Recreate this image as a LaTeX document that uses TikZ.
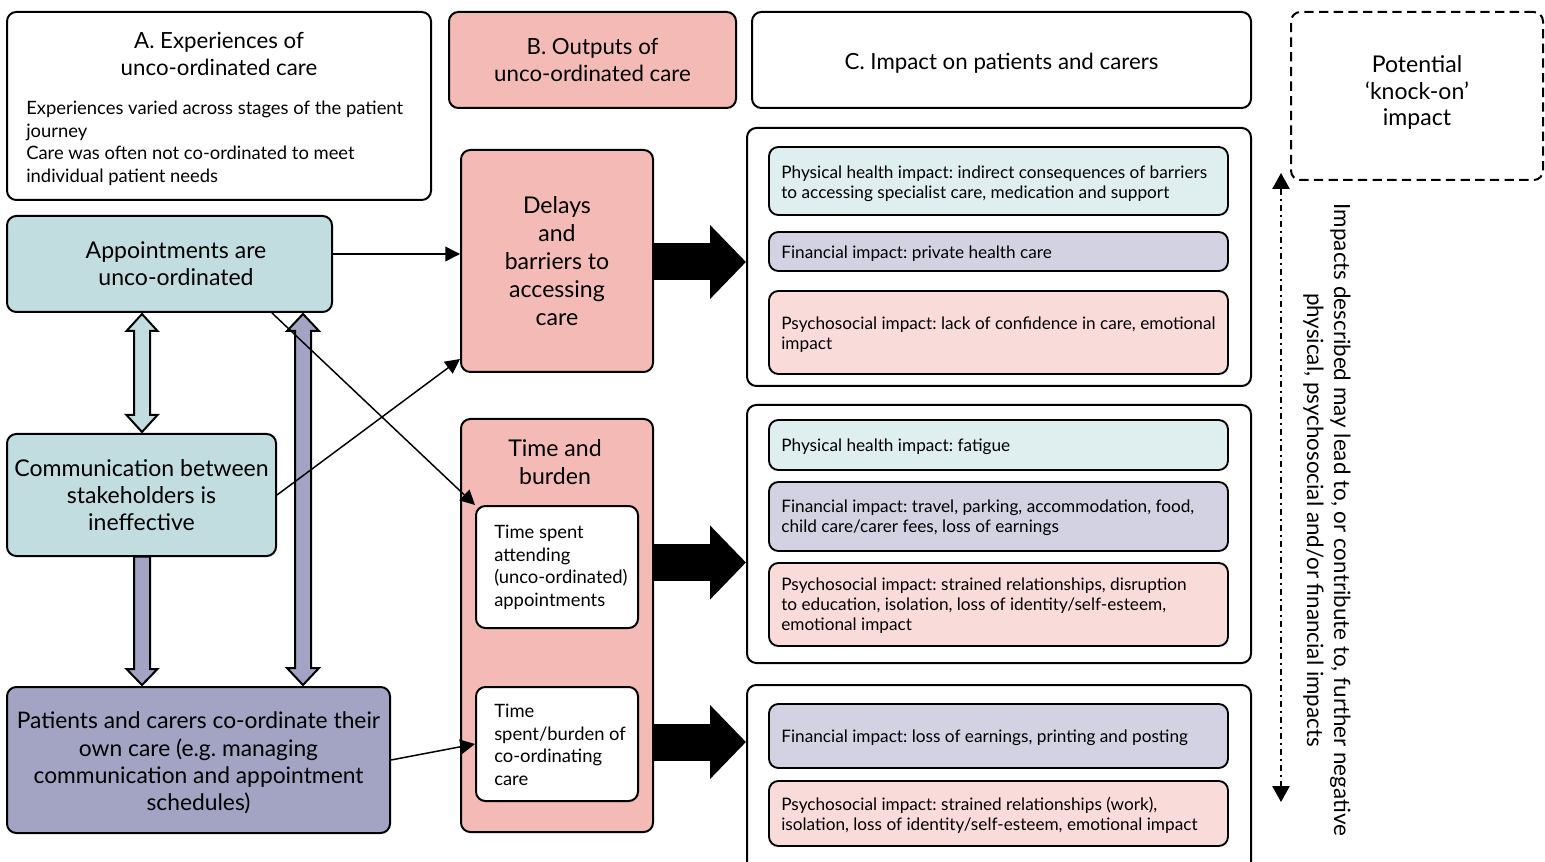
\documentclass[tikz,border=0pt]{standalone}
\usepackage{fontspec}
\setmainfont{Lato}
\usetikzlibrary{arrows.meta,calc}

% one drawing unit = 0.75pt
\newcommand\pu{*0.75pt}
\newcommand\fbig{\fontsize{17.3}{20.4}\selectfont}
\newcommand\fhead{\fontsize{16.7}{20.2}\selectfont}
\newcommand\fbody{\fontsize{13.8}{16.9}\selectfont}
\newcommand\fsub{\fontsize{12.9}{15}\selectfont}

\definecolor{tealbox}{HTML}{C1DDDF}
\definecolor{pinkbox}{HTML}{F4BBB6}
\definecolor{purplebox}{HTML}{A3A3C3}
\definecolor{lteal}{HTML}{DFEEEE}
\definecolor{lpurple}{HTML}{D3D2E3}
\definecolor{lpink}{HTML}{F9DCDA}

\frenchspacing
\begin{document}
\begin{tikzpicture}[x=0.75pt,y=-0.75pt,
  box/.style={draw, line width=1.5pt, rounded corners=7pt, inner sep=0pt, align=center},
  bigbox/.style={box, font=\fbig},
  headbox/.style={box, font=\fhead},
  label/.style={align=center, inner sep=0pt},
  subbox/.style={draw, line width=1.4pt, rounded corners=7pt, inner sep=0pt, minimum width=459\pu},
  subtext/.style={anchor=west, align=left, inner sep=0pt, font=\fsub},
  conn/.style={line width=1.1pt, -{Triangle[length=11pt,width=11pt]}},
  fat/.style={line width=27.75pt, -{Triangle[length=27pt,width=54pt]}},
  hollow/.style={draw, line width=1.5pt, line join=miter},
]
\clip (0,0) rectangle (1545,862);

% column headers
\node[box, minimum width=424\pu, minimum height=188\pu] (A) at (219,106) {};
\node[label, font=\fhead] (Atitle) at (219,54) {A. Experiences of\\unco-ordinated care};
\node[anchor=west, align=left, inner sep=0pt, font=\fbody] (Abody) at (26,143.5)
  {Experiences varied across stages of the patient\\journey\\Care was often not co-ordinated to meet\\individual patient needs};
\node[headbox, fill=pinkbox, minimum width=287\pu, minimum height=96\pu] (B) at (592.5,60)
  {B. Outputs of\\unco-ordinated care};
\node[box, minimum width=499\pu, minimum height=96\pu] (C) at (1001.5,60) {};
\node[label, font=\fhead] (Ctext) at (1001.5,63) {C. Impact on patients and carers};
\node[box, dash pattern=on 7pt off 4pt, minimum width=252\pu, minimum height=168\pu] (pot) at (1417,96) {};
\node[label, font=\fontsize{17.3}{20.2}\selectfont] (pottext) at (1417,92.5)
  {Potential\\‘knock-on’\\impact};

% experiences
\node[box, fill=tealbox, minimum width=325\pu, minimum height=96\pu] (app) at (169.5,264) {};
\node[label, font=\fbig] (apptext) at (176,264) {Appointments are\\unco-ordinated};
\node[bigbox, fill=tealbox, minimum width=269\pu, minimum height=122\pu] (comm) at (141.5,495)
  {Communication between\\stakeholders is\\ineffective};
\node[box, fill=purplebox, minimum width=383\pu, minimum height=146\pu] (pat) at (198.5,760) {};
\node[label, font=\fontsize{17.1}{20.4}\selectfont] (pattext) at (198.5,763)
  {Patients and carers co-ordinate their\\own care (e.g. managing\\communication and appointment\\schedules)};

% outputs
\node[bigbox, fill=pinkbox, minimum width=192\pu, minimum height=222\pu, font=\fontsize{17.3}{21}\selectfont] (delays) at (557,261)
  {Delays\\and\\barriers to\\accessing\\care};
\node[bigbox, fill=pinkbox, minimum width=192\pu, minimum height=413\pu] (time) at (557,625.5) {};
\node[label, font=\fbig] (timetitle) at (555,462) {Time and\\burden};
\node[box, fill=white, minimum width=162\pu, minimum height=122\pu] (t1) at (557,567) {};
\node[anchor=west, align=left, inner sep=0pt, font=\fbody] (t1text) at (494,567.5)
  {Time spent\\attending\\(unco-ordinated)\\appointments};
\node[box, fill=white, minimum width=162\pu, minimum height=114\pu] (t2) at (557,744) {};
\node[anchor=west, align=left, inner sep=0pt, font=\fbody] (t2text) at (494,745)
  {Time\\spent/burden of\\co-ordinating\\care};

% impact groups
\node[box, minimum width=504\pu, minimum height=258\pu] (g1) at (999,257) {};
\node[box, minimum width=504\pu, minimum height=258\pu] (g2) at (999,534) {};
\node[box, minimum width=504\pu, minimum height=190\pu] (g3) at (999,780) {};

\node[subbox, fill=lteal, minimum height=68\pu] (s11) at (998.5,181) {};
\node[subtext] (s11t) at ([xshift=13\pu,yshift=-1.8pt]s11.west)
  {Physical health impact: indirect consequences of barriers\\to accessing specialist care, medication and support};
\node[subbox, fill=lpurple, minimum height=39\pu] (s12) at (998.5,251.5) {};
\node[subtext] (s12t) at ([xshift=13\pu,yshift=-1.5pt]s12.west) {Financial impact: private health care};
\node[subbox, fill=lpink, minimum height=83\pu] (s13) at (998.5,332.5) {};
\node[subtext] (s13t) at ([xshift=13\pu,yshift=-1.5pt]s13.west)
  {Psychosocial impact: lack of confidence in care, emotional\\impact};

\node[subbox, fill=lteal, minimum height=50\pu] (s21) at (998.5,445) {};
\node[subtext] (s21t) at ([xshift=13\pu,yshift=-1.5pt]s21.west) {Physical health impact: fatigue};
\node[subbox, fill=lpurple, minimum height=69\pu] (s22) at (998.5,516.5) {};
\node[subtext] (s22t) at ([xshift=13\pu,yshift=-1pt]s22.west)
  {Financial impact: travel, parking, accommodation, food,\\child care/carer fees, loss of earnings};
\node[subbox, fill=lpink, minimum height=83\pu] (s23) at (998.5,604.5) {};
\node[subtext] (s23t) at ([xshift=13\pu,yshift=-1pt]s23.west)
  {Psychosocial impact: strained relationships, disruption\\to education, isolation, loss of identity/self-esteem,\\emotional impact};

\node[subbox, fill=lpurple, minimum height=64\pu] (s31) at (998.5,736) {};
\node[subtext] (s31t) at ([xshift=13\pu,yshift=-1.5pt]s31.west) {Financial impact: loss of earnings, printing and posting};
\node[subbox, fill=lpink, minimum height=65\pu] (s32) at (998.5,813.5) {};
\node[subtext] (s32t) at ([xshift=13\pu,yshift=-1.5pt]s32.west)
  {Psychosocial impact: strained relationships (work),\\isolation, loss of identity/self-esteem, emotional impact};

% knock-on note
\node[rotate=-90, label, font=\fontsize{16.8}{20.2}\selectfont] (note) at (1327,520)
  {Impacts described may lead to, or contribute to, further negative\\physical, psychosocial and/or financial impacts};
\coordinate (ktop) at (1281,173);
\coordinate (kbot) at (1281,802);
\draw[line width=1.1pt, dash pattern=on 5pt off 3pt on 1pt off 3pt,
      {Triangle[length=12pt,width=13pt]}-{Triangle[length=12pt,width=13pt]}] (ktop) -- (kbot);

% hollow block arrows between experiences
\path[hollow, fill=tealbox] (142,314) -- (157.5,331) -- (150,331) -- (150,415) -- (157.5,415) -- (142,432)
  -- (126.5,415) -- (134,415) -- (134,331) -- (126.5,331) -- cycle;
\path[hollow, fill=purplebox] (303,314) -- (319,331) -- (311,331) -- (311,668) -- (319,668) -- (303,685)
  -- (287,668) -- (295,668) -- (295,331) -- (287,331) -- cycle;
\path[hollow, fill=purplebox] (134,556.5) -- (150,556.5) -- (150,669) -- (157.5,669) -- (142,685)
  -- (126.5,669) -- (134,669) -- cycle;

% thin connectors
\draw[conn] ([yshift=7.5pt]app.east) -- ([yshift=7.5pt]app.east -| delays.west);
\draw[conn] ([xshift=102.5\pu]app.south) -- (t1.north west);
\draw[conn] (comm.east) -- ([yshift=10.5pt]delays.south west);
\draw[conn] (pat.east) -- (t2.west);

% bold arrows from outputs to impacts
\coordinate (b1) at (0,262);
\coordinate (b2) at (0,562.5);
\coordinate (b3) at (0,742);
\draw[fat] (b1 -| delays.east) -- (b1 -| g1.west);
\draw[fat] (b2 -| time.east) -- (b2 -| g2.west);
\draw[fat] (b3 -| time.east) -- (b3 -| g3.west);
\end{tikzpicture}
\end{document}
